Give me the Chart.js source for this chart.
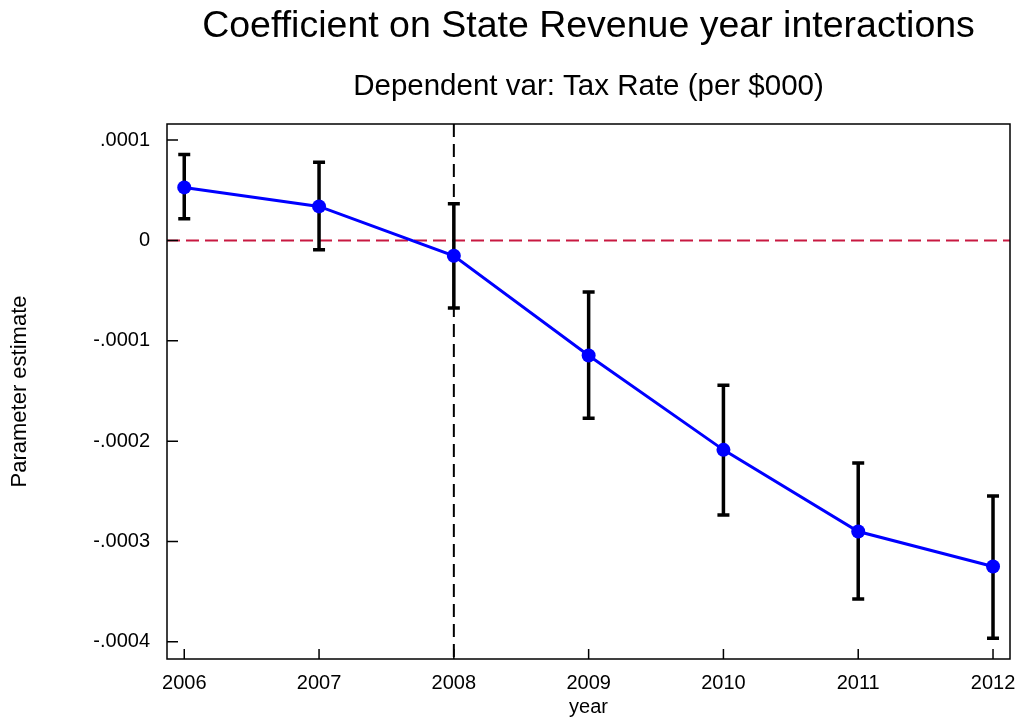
<!DOCTYPE html>
<html>
<head>
<meta charset="utf-8">
<script src="https://cdn.jsdelivr.net/npm/chart.js@4.4.0/dist/chart.umd.min.js"></script>
<style>
  html, body { margin: 0; padding: 0; background: #fff; }
</style>
</head>
<body>
<canvas id="grafico" width="1023" height="723"></canvas>
<script>
// datos
const years = [2006, 2007, 2008, 2009, 2010, 2011, 2012];
const estimates = [0.0000528, 0.0000339, -0.0000153, -0.0001147, -0.0002087, -0.0002901, -0.0003250];
const ciHigh = [0.0000857, 0.0000778, 0.0000366, -0.0000514, -0.0001442, -0.0002218, -0.0002546];
const ciLow = [0.0000216, -0.0000093, -0.0000674, -0.0001771, -0.0002735, -0.0003574, -0.0003964];
const yTickValues = [-0.0004, -0.0003, -0.0002, -0.0001, 0, 0.0001];
const yTickLabels = ['-.0004', '-.0003', '-.0002', '-.0001', '0', '.0001'];
const refYear = 2008;
const refValue = 0;

const fuente = "'Liberation Sans', Arial, sans-serif";
const titulo = 'Coefficient on State Revenue year interactions';
const subtitulo = 'Dependent var: Tax Rate (per $000)';

// titulos centrados sobre el area del grafico
const titulos = {
  id: 'titulos',
  afterDraw(chart) {
    const {ctx, chartArea: {left, right}} = chart;
    const cx = (left + right) / 2;
    ctx.save();
    ctx.fillStyle = '#000';
    ctx.textAlign = 'center';
    ctx.textBaseline = 'middle';
    ctx.font = '37.5px ' + fuente;
    ctx.fillText(titulo, cx, 27);
    ctx.font = '29.5px ' + fuente;
    ctx.fillText(subtitulo, cx, 87);
    ctx.restore();
  }
}

// lineas de referencia y barras de error
const referencias = {
  id: 'referencias',
  beforeDatasetsDraw(chart) {
    const {ctx, chartArea: {top, bottom, left, right}, scales: {x, y}} = chart;
    ctx.save();

    const y0 = y.getPixelForValue(refValue);
    ctx.strokeStyle = 'rgb(200, 25, 65)';
    ctx.lineWidth = 2;
    ctx.setLineDash([13, 6]);
    ctx.beginPath();
    ctx.moveTo(left, y0);
    ctx.lineTo(right, y0);
    ctx.stroke();

    const x0 = x.getPixelForValue(refYear);
    ctx.strokeStyle = '#000';
    ctx.setLineDash([13, 7]);
    ctx.beginPath();
    ctx.moveTo(x0, top);
    ctx.lineTo(x0, bottom);
    ctx.stroke();

    ctx.setLineDash([]);
    ctx.lineWidth = 3.5;
    ctx.strokeStyle = '#000';
    years.forEach((yr, i) => {
      const px = x.getPixelForValue(yr);
      const hi = y.getPixelForValue(ciHigh[i]);
      const lo = y.getPixelForValue(ciLow[i]);
      ctx.beginPath();
      ctx.moveTo(px, hi);
      ctx.lineTo(px, lo);
      ctx.moveTo(px - 6, hi);
      ctx.lineTo(px + 6, hi);
      ctx.moveTo(px - 6, lo);
      ctx.lineTo(px + 6, lo);
      ctx.stroke();
    });
    ctx.restore();
  }
}

// marco y ticks hacia dentro
const marco = {
  id: 'marco',
  afterDraw(chart) {
    const {ctx, chartArea: {top, bottom, left, right}, scales: {x, y}} = chart;
    ctx.save();
    ctx.strokeStyle = '#000';
    ctx.lineWidth = 1.5;
    ctx.strokeRect(left, top, right - left, bottom - top);
    ctx.beginPath();
    yTickValues.forEach(v => {
      const py = y.getPixelForValue(v);
      ctx.moveTo(left, py);
      ctx.lineTo(left + 11, py);
    });
    years.forEach(v => {
      const px = x.getPixelForValue(v);
      ctx.moveTo(px, bottom);
      ctx.lineTo(px, bottom - 10);
    });
    ctx.stroke();
    ctx.restore();
  }
}

const data = {
  datasets: [{
    data: years.map((yr, i) => ({x: yr, y: estimates[i]})),
    borderColor: '#0000ff',
    backgroundColor: '#0000ff',
    borderWidth: 3,
    pointRadius: 7,
    pointBorderWidth: 0,
    tension: 0
  }]
}

const config = {
  type: 'line',
  data,
  options: {
    responsive: false,
    animation: false,
    devicePixelRatio: 1,
    layout: {padding: {top: 124, right: 13, left: 0, bottom: 0}},
    plugins: {
      legend: {display: false},
      tooltip: {enabled: false}
    },
    scales: {
      x: {
        type: 'linear',
        min: 2005.872,
        max: 2012.126,
        grid: {display: false, drawTicks: false},
        border: {display: false},
        afterBuildTicks: (scale) => { scale.ticks = years.map(v => ({value: v})) },
        afterFit: (scale) => {
          scale.height = 64;
          scale.paddingLeft = 0;
          scale.paddingRight = 0;
        },
        ticks: {
          color: '#000',
          font: {family: fuente, size: 20},
          padding: 12,
          maxRotation: 0,
          callback: (v) => String(v)
        },
        title: {
          display: true,
          text: 'year',
          color: '#000',
          font: {family: fuente, size: 20},
          padding: {top: 0, bottom: 4}
        }
      },
      y: {
        type: 'linear',
        min: -0.0004171,
        max: 0.0001160,
        grid: {display: false, drawTicks: false},
        border: {display: false},
        afterBuildTicks: (scale) => { scale.ticks = yTickValues.map(v => ({value: v})) },
        afterFit: (scale) => {
          scale.width = 167;
          scale.paddingTop = 0;
          scale.paddingBottom = 0;
        },
        ticks: {
          color: '#000',
          font: {family: fuente, size: 20},
          padding: 17,
          callback: (v, i) => yTickLabels[i]
        },
        title: {
          display: true,
          text: 'Parameter estimate',
          color: '#000',
          font: {family: fuente, size: 22},
          padding: {top: 7, bottom: 0}
        }
      }
    }
  },
  plugins: [referencias, marco, titulos]
}

const miGrafico = new Chart(document.getElementById('grafico'), config);
</script>
</body>
</html>
